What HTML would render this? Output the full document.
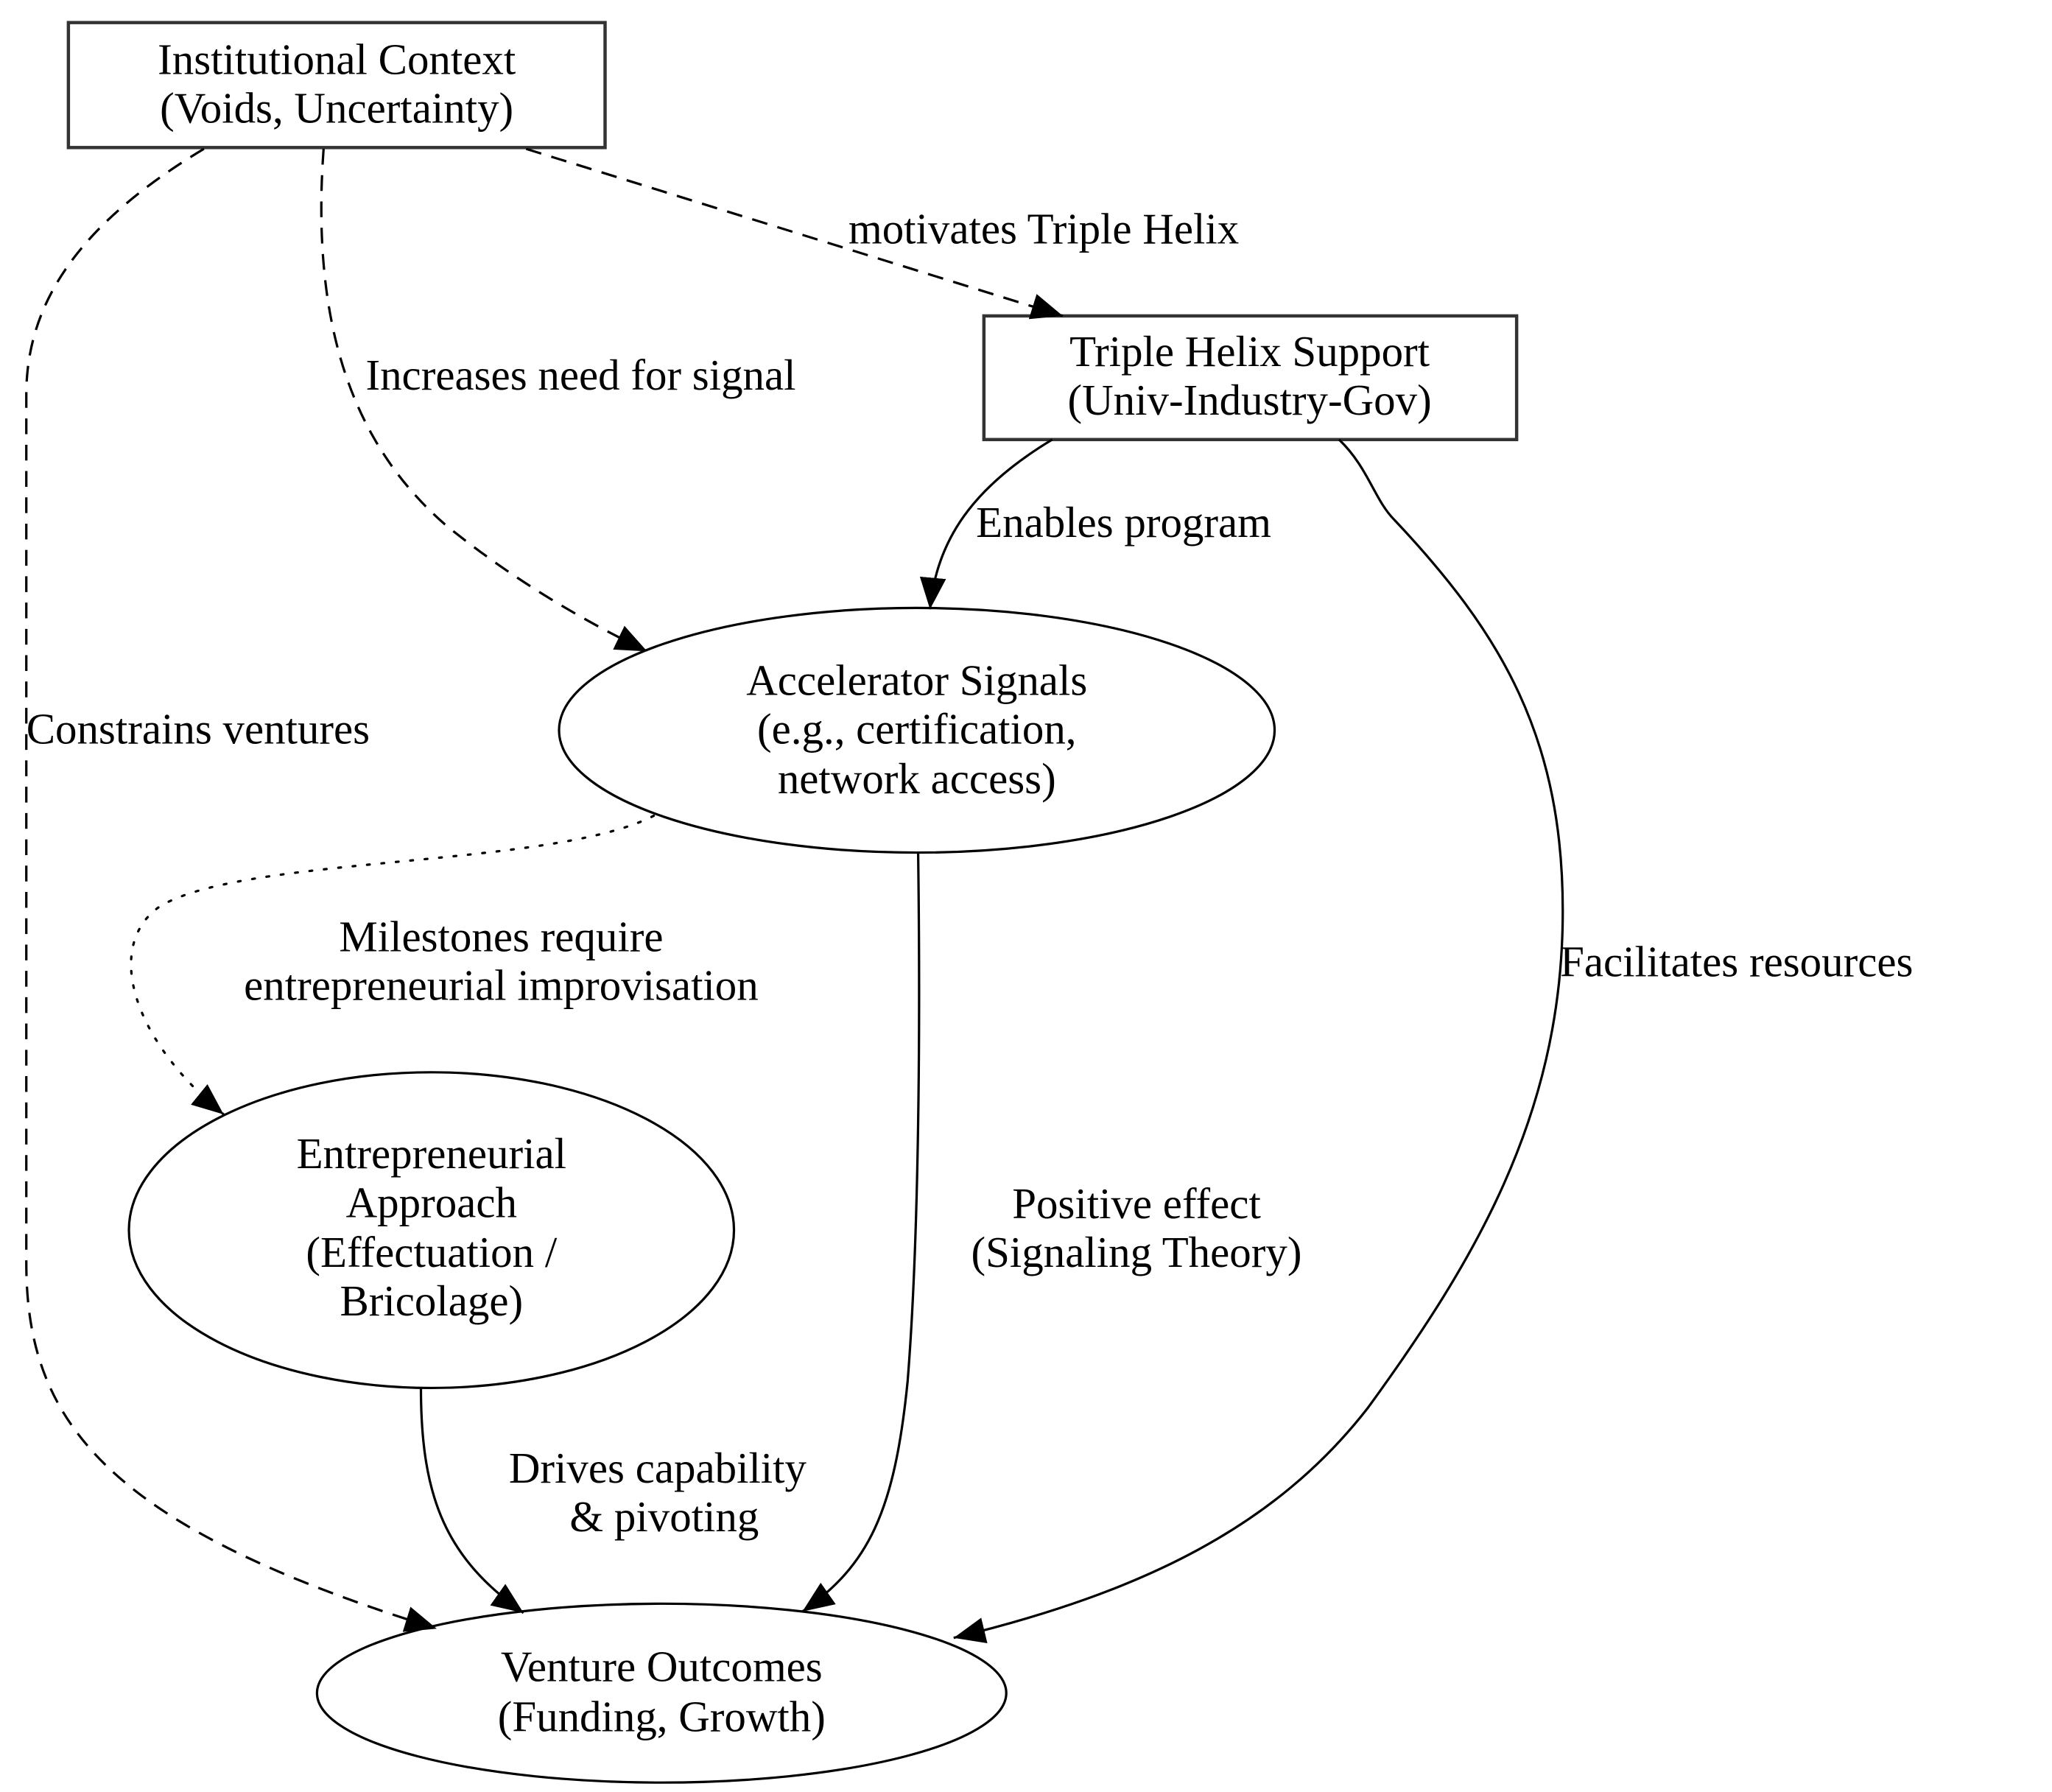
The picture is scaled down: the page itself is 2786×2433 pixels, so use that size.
<!DOCTYPE html>
<html><head><style>html,body{margin:0;padding:0;background:#fff}svg{display:block}</style></head>
<body>
<svg width="2786" height="2433" viewBox="0 0 1560 1362" xmlns="http://www.w3.org/2000/svg" font-family="'Liberation Serif', serif" font-size="33">
<defs>
<marker id="a" markerUnits="userSpaceOnUse" markerWidth="30" markerHeight="24" refX="24" refY="10" orient="auto">
<path d="M0,0 L24,10 L0,20 Z" fill="#000"/>
</marker>
</defs>
<rect width="1560" height="1362" fill="#fff"/>
<g fill="none" stroke="#000" stroke-width="1.8">
<rect x="52" y="17" width="408" height="95" stroke="#333" stroke-width="2.5"/>
<rect x="748" y="240" width="405" height="94" stroke="#333" stroke-width="2.5"/>
<ellipse cx="697" cy="555" rx="272" ry="93"/>
<ellipse cx="328" cy="935" rx="230" ry="120"/>
<ellipse cx="503" cy="1287" rx="262" ry="68"/>
</g>
<g fill="none" stroke="#000" stroke-width="1.8">
<path d="M400,113 L808,240" stroke-dasharray="12,8" marker-end="url(#a)"/>
<path d="M246,113 C236,250 270,340 340,400 C390,440 440,470 492,495" stroke-dasharray="12,8" marker-end="url(#a)"/>
<path d="M155,113 C60,170 20,230 20,300 L20,960 C20,1080 80,1160 332,1238" stroke-dasharray="12,8" marker-end="url(#a)"/>
<path d="M800,334 C740,370 712,410 707,463" marker-end="url(#a)"/>
<path d="M1018,334 C1040,355 1045,380 1060,395 C1140,480 1190,560 1188,700 C1186,850 1120,960 1040,1070 C970,1160 870,1210 725,1245" marker-end="url(#a)"/>
<path d="M698,648 C700,800 698,950 690,1050 C680,1150 660,1190 610,1225" marker-end="url(#a)"/>
<path d="M497,620 C420,660 180,650 120,690 C80,720 100,790 170,847" stroke-dasharray="2,9" stroke-linecap="round" marker-end="url(#a)"/>
<path d="M320,1055 C320,1140 340,1185 398,1226" marker-end="url(#a)"/>
</g>
<g fill="#000" text-anchor="middle">
<text x="256" y="56">Institutional Context</text>
<text x="256" y="93">(Voids, Uncertainty)</text>
<text x="950" y="278">Triple Helix Support</text>
<text x="950" y="315">(Univ-Industry-Gov)</text>
<text x="697" y="528">Accelerator Signals</text>
<text x="697" y="565">(e.g., certification,</text>
<text x="697" y="603">network access)</text>
<text x="328" y="888">Entrepreneurial</text>
<text x="328" y="925">Approach</text>
<text x="328" y="963">(Effectuation /</text>
<text x="328" y="1000">Bricolage)</text>
<text x="503" y="1278">Venture Outcomes</text>
<text x="503" y="1316">(Funding, Growth)</text>
<text x="864" y="926">Positive effect</text>
<text x="864" y="963">(Signaling Theory)</text>
<text x="381" y="723">Milestones require</text>
<text x="381" y="760">entrepreneurial improvisation</text>
<text x="500" y="1127">Drives capability</text>
<text x="505" y="1164">&amp; pivoting</text>
</g>
<g fill="#000">
<text x="645" y="185">motivates Triple Helix</text>
<text x="278" y="296">Increases need for signal</text>
<text x="20" y="565">Constrains ventures</text>
<text x="742" y="408">Enables program</text>
<text x="1186" y="742">Facilitates resources</text>
</g>
</svg>
</body></html>
